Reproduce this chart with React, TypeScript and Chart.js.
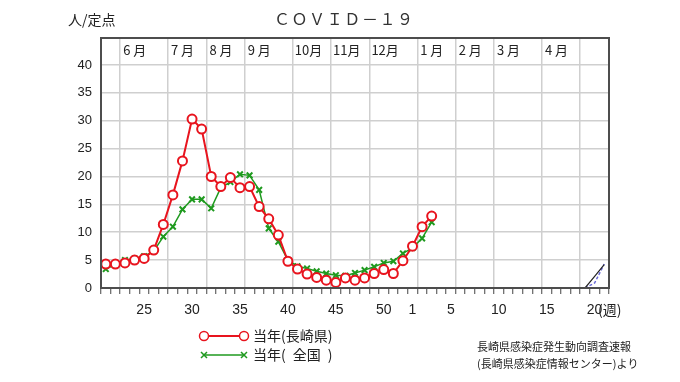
import React, { useEffect, useRef } from 'react';
import { Chart, registerables } from 'chart.js';

Chart.register(...registerables);

// Week slots shown on the x axis (week 21 of one year to week 21 of the next)
const weekLabels: string[] = [
  '21', '22', '23', '24', '25', '26', '27', '28', '29', '30',
  '31', '32', '33', '34', '35', '36', '37', '38', '39', '40',
  '41', '42', '43', '44', '45', '46', '47', '48', '49', '50',
  '51', '52', '1', '2', '3', '4', '5', '6', '7', '8',
  '9', '10', '11', '12', '13', '14', '15', '16', '17', '18',
  '19', '20', '21',
];
const shownWeekTicks: string[] = ['25', '30', '35', '40', '45', '50', '1', '5', '10', '15', '20'];

// Month band
const monthNames: string[] = ['6月', '7月', '8月', '9月', '10月', '11月', '12月', '1月', '2月', '3月', '4月'];
const monthStartSlots: number[] = [2, 7, 11, 15, 20, 24, 28, 33, 37, 41, 46, 50];

// 当年(長崎県)
const nagasaki: number[] = [
  4.3, 4.3, 4.5, 5.0, 5.3, 6.8, 11.4, 16.7, 22.8, 30.3,
  28.5, 20.0, 18.2, 19.8, 18.0, 18.2, 14.6, 12.4, 9.5, 4.8,
  3.4, 2.5, 1.9, 1.4, 1.0, 1.8, 1.4, 1.8, 2.6, 3.3,
  2.6, 4.9, 7.5, 11.0, 12.9,
];
// 当年( 全国 )
const national: number[] = [
  3.4, 4.2, 5.0, 5.3, 5.7, 6.6, 9.2, 11.0, 14.1, 15.9,
  15.9, 14.3, 18.0, 19.0, 20.4, 20.2, 17.6, 10.7, 8.3, 5.0,
  3.9, 3.5, 3.0, 2.6, 2.3, 2.2, 2.7, 3.2, 3.8, 4.5,
  4.8, 6.2, 7.2, 8.9, 11.8,
];
// short segments visible at the far right edge
const tailStartSlot = 50;
const blackTail: number[] = [0, 2.1, 4.2];
const blueTail: number[] = [0, 0.9, 4.3];

const yTickValues: number[] = [0, 5, 10, 15, 20, 25, 30, 35, 40];
const yMax = 44.84;

const padTail = (tail: number[]) => {
  const arr: (number | null)[] = weekLabels.map(() => null);
  tail.forEach((v, i) => { arr[tailStartSlot + i] = v; });
  return arr;
};

const JP = '"Noto Sans CJK JP", "Noto Sans", sans-serif';
const LAT = '"Liberation Sans", Arial, sans-serif';

const decorPlugin = {
  id: 'decor',
  afterDraw(chart: any) {
    const { ctx, chartArea: a } = chart;
    const x = chart.scales.x;
    ctx.save();

    // frame
    ctx.strokeStyle = '#4d4d4d';
    ctx.lineWidth = 2;
    ctx.strokeRect(a.left, a.top, a.right - a.left, a.bottom - a.top);

    // month labels
    ctx.fillStyle = '#222';
    ctx.font = `13px ${JP}`;
    ctx.textAlign = 'left';
    ctx.textBaseline = 'middle';
    monthNames.forEach((m, i) => {
      const s = monthStartSlots[i];
      const bx = (x.getPixelForValue(s - 1) + x.getPixelForValue(s)) / 2;
      if (m.length === 2) {
        ctx.fillText(m[0], bx + 3, 50);
        ctx.fillText(m[1], bx + 13, 50);
      } else {
        ctx.fillText(m, bx + 2, 50);
      }
    });

    // unit label
    ctx.font = `14px ${JP}`;
    ctx.fillStyle = '#222';
    ctx.fillText('人/定点', 68, 20);

    // title, spaced characters
    const title = 'ＣＯＶＩＤ－１９';
    ctx.font = `16px ${JP}`;
    ctx.fillStyle = '#333';
    ctx.textAlign = 'center';
    const step = 17.6;
    const startX = 343.5 - (step * (title.length - 1)) / 2;
    [...title].forEach((c, i) => ctx.fillText(c, startX + i * step, 19));

    // week unit
    ctx.textAlign = 'left';
    ctx.font = `14px ${JP}`;
    ctx.fillStyle = '#222';
    ctx.fillText('(週)', 598, 310);

    // legend
    const lx1 = 204, lx2 = 244;
    const ry = 336, gy = 355;
    ctx.strokeStyle = '#e8141e';
    ctx.lineWidth = 2;
    ctx.beginPath(); ctx.moveTo(lx1, ry); ctx.lineTo(lx2, ry); ctx.stroke();
    [lx1, lx2].forEach((px) => {
      ctx.beginPath();
      ctx.arc(px, ry, 4.5, 0, Math.PI * 2);
      ctx.fillStyle = '#fff';
      ctx.fill();
      ctx.lineWidth = 1.5;
      ctx.stroke();
    });
    ctx.strokeStyle = '#1f9a1f';
    ctx.lineWidth = 1.5;
    ctx.beginPath(); ctx.moveTo(lx1, gy); ctx.lineTo(lx2, gy); ctx.stroke();
    [lx1, lx2].forEach((px) => {
      const r = 3;
      ctx.beginPath();
      ctx.moveTo(px - r, gy - r); ctx.lineTo(px + r, gy + r);
      ctx.moveTo(px - r, gy + r); ctx.lineTo(px + r, gy - r);
      ctx.stroke();
    });
    ctx.fillStyle = '#222';
    ctx.font = `14px ${JP}`;
    ctx.textAlign = 'left';
    ctx.fillText('当年(長崎県)', 253, ry);
    ctx.fillText('当年(\u2002全国\u2002)', 253, gy);

    // source note
    ctx.font = `11px ${JP}`;
    ctx.fillText('長崎県感染症発生動向調査速報', 477, 347);
    ctx.fillText('(長崎県感染症情報センター)より', 477, 364);

    ctx.restore();
  },
};

export default function App() {
  const ref = useRef<HTMLCanvasElement | null>(null);

  useEffect(() => {
    if (!ref.current) return;
    const chart = new Chart(ref.current, {
      type: 'line',
      data: {
        labels: weekLabels,
        datasets: [
          {
            label: '当年(長崎県)',
            data: nagasaki,
            borderColor: '#e8141e',
            borderWidth: 2,
            pointRadius: 4.5,
            pointBorderWidth: 2,
            pointBackgroundColor: '#ffffff',
            pointBorderColor: '#e8141e',
            tension: 0,
          },
          {
            label: '当年( 全国 )',
            data: national,
            borderColor: '#1f9a1f',
            borderWidth: 1.5,
            pointStyle: 'crossRot',
            pointRadius: 4,
            pointBorderWidth: 2,
            pointBorderColor: '#1f9a1f',
            tension: 0,
          },
          {
            label: 'tailBlack',
            data: padTail(blackTail),
            borderColor: '#222',
            borderWidth: 1.2,
            pointRadius: 0,
            tension: 0,
          },
          {
            label: 'tailBlue',
            data: padTail(blueTail),
            borderColor: '#6a6ad8',
            borderWidth: 1.5,
            borderDash: [3, 2],
            pointRadius: 0,
            tension: 0,
          },
        ],
      },
      options: {
        responsive: false,
        animation: false,
        events: [],
        layout: { padding: { top: 38, right: 71, left: 0, bottom: 0 } },
        plugins: {
          legend: { display: false },
          title: { display: false },
          tooltip: { enabled: false },
        },
        scales: {
          x: {
            type: 'category',
            offset: true,
            border: { display: false },
            grid: {
              offset: true,
              lineWidth: 1.5,
              color: (c: any) => (monthStartSlots.includes(c.index) ? '#cfcfcf' : 'rgba(0,0,0,0)'),
              tickColor: '#444',
              tickLength: 6,
              tickWidth: 1,
              drawTicks: true,
            },
            ticks: {
              autoSkip: false,
              maxRotation: 0,
              minRotation: 0,
              padding: 8,
              color: '#222',
              font: { family: LAT, size: 14 },
              callback: (_v: any, i: number) => (shownWeekTicks.includes(weekLabels[i]) && i !== 52 ? weekLabels[i] : ''),
            },
            afterFit: (s: any) => { s.height = 94; },
          },
          y: {
            min: 0,
            max: yMax,
            border: { display: false },
            afterBuildTicks: (s: any) => { s.ticks = yTickValues.map((v) => ({ value: v })); },
            grid: {
              lineWidth: 1.5,
              color: (c: any) => (c.tick && c.tick.value === 0 ? 'rgba(0,0,0,0)' : '#cfcfcf'),
              drawTicks: false,
            },
            ticks: {
              padding: 9,
              color: '#222',
              font: { family: LAT, size: 13 },
            },
            afterFit: (s: any) => { s.width = 101; },
          },
        },
      },
      plugins: [decorPlugin],
    });
    return () => chart.destroy();
  }, []);

  return (
    <div style={{ position: 'absolute', left: 0, top: 0, width: 680, height: 382, background: '#fff' }}>
      <canvas ref={ref} width={680} height={382} style={{ display: 'block' }} />
    </div>
  );
}
